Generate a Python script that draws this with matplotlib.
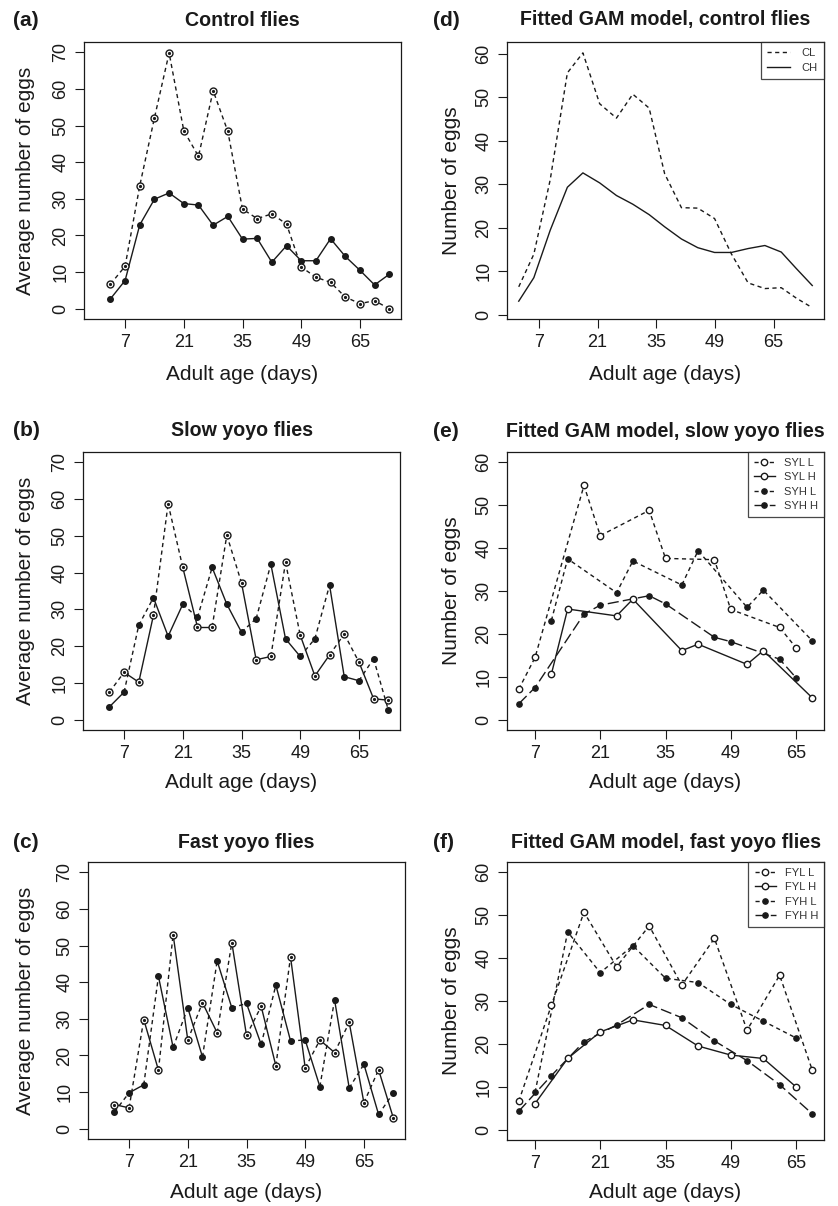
import matplotlib
matplotlib.use("Agg")
import matplotlib.pyplot as plt
from matplotlib.lines import Line2D

plt.rcParams['font.family'] = ['Liberation Sans', 'DejaVu Sans']

# ages at each egg count (days), twice a week
ages = [3.5, 7, 10.5, 14, 17.5, 21, 24.5, 28, 31.5, 35,
        38.5, 42, 45.5, 49, 52.5, 56, 59.5, 63, 66.5, 70]
tick_pos = [7, 21, 35, 49, 63]
tick_lab = ['7', '21', '35', '49', '65']

# (a) control flies
ctrl_low = [6.7, 11.6, 33.6, 52.1, 69.8, 48.6, 41.6, 59.5, 48.4, 27.2,
            24.6, 25.9, 23.1, 11.4, 8.6, 7.2, 3.2, 1.4, 2.2, 0.0]
ctrl_high = [2.7, 7.7, 22.9, 29.9, 31.6, 28.7, 28.3, 22.8, 25.2, 19.0,
             19.2, 12.7, 17.2, 13.1, 13.1, 19.1, 14.3, 10.5, 6.5, 9.4]

# (b) slow yoyo flies
slow_open = [7.5, 12.9, 10.2, 28.4, 58.7, 41.4, 25.2, 25.2, 50.2, 37.2,
             16.3, 17.2, 42.8, 23.0, 11.9, 17.6, 23.3, 15.7, 5.7, 5.3]
slow_filled = [3.5, 7.5, 25.7, 33.2, 22.7, 31.4, 27.8, 41.4, 31.4, 23.8,
               27.5, 42.3, 22.0, 17.2, 22.0, 36.6, 11.7, 10.6, 16.6, 2.7]
# temperature of the open-circle group between two counts
slow_temp = 'LHHLLHHLLHHLLHHLLHH'

# (c) fast yoyo flies
fast_open = [6.6, 5.7, 29.8, 16.0, 53.0, 24.2, 34.4, 26.2, 50.8, 25.5,
             33.4, 17.2, 46.9, 16.6, 24.2, 20.8, 29.0, 7.1, 16.1, 3.0]
fast_filled = [4.6, 9.8, 12.0, 41.6, 22.2, 33.0, 19.6, 45.8, 33.0, 34.2,
               23.0, 39.2, 24.0, 24.2, 11.5, 35.2, 11.1, 17.6, 3.9, 9.7]
fast_temp = 'HLHLHLHLHLHLHLHLHLH'

# (d) fitted GAM, control
gam_age = [2.2, 5.8, 9.7, 13.8, 17.5, 21.5, 25.5, 29.4, 33.3, 37.0,
           41.0, 44.9, 48.9, 52.9, 56.9, 60.9, 64.8, 68.4, 72.2]
gam_cl = [6.4, 13.9, 31.0, 55.6, 60.2, 48.5, 45.2, 50.7, 47.5, 32.4,
          24.6, 24.5, 22.1, 14.0, 7.3, 6.0, 6.2, 3.8, 1.6]
gam_ch = [3.1, 8.5, 19.4, 29.3, 32.6, 30.3, 27.4, 25.4, 23.0, 20.2,
          17.4, 15.4, 14.3, 14.3, 15.2, 15.9, 14.4, 10.6, 6.7]

# (e) fitted GAM, slow yoyo
age_a = [3.5, 7, 17.5, 21, 31.5, 35, 45.5, 49, 59.5, 63]
age_b = [10.5, 14, 24.5, 28, 38.5, 42, 52.5, 56, 66.5]
syl_l = [7.1, 14.5, 54.6, 42.9, 48.8, 37.6, 37.3, 25.7, 21.5, 16.8]
syl_h = [10.6, 25.8, 24.2, 28.1, 16.1, 17.6, 12.9, 16.1, 5.1]
syh_l = [23.1, 37.5, 29.6, 37.0, 31.4, 39.4, 26.2, 30.2, 18.4]
syh_h = [3.7, 7.5, 24.6, 26.7, 28.9, 27.0, 19.2, 18.2, 14.1, 9.8]

# (f) fitted GAM, fast yoyo
age_odd = [3.5, 10.5, 17.5, 24.5, 31.5, 38.5, 45.5, 52.5, 59.5, 66.5]
age_even = [7, 14, 21, 28, 35, 42, 49, 56, 63]
fyl_l = [6.6, 29.0, 50.7, 38.0, 47.5, 33.7, 44.6, 23.2, 36.0, 13.9]
fyl_h = [6.1, 16.6, 22.8, 25.6, 24.3, 19.5, 17.4, 16.6, 10.0]
fyh_l = [8.7, 46.1, 36.6, 42.9, 35.3, 34.3, 29.2, 25.3, 21.4]
fyh_h = [4.3, 12.6, 20.5, 24.4, 29.2, 26.1, 20.7, 16.1, 10.5, 3.7]

W, H = 838, 1206
fig = plt.figure(figsize=(W / 100, H / 100), dpi=100)
ink = '#1a1a1a'
DASH = (0, (3, 2.5))
LONG = (0, (8, 3))


def make_axes(l, t, r, b):
    ax = fig.add_axes([l / W, 1 - b / H, (r - l) / W, (b - t) / H])
    for s in ax.spines.values():
        s.set_linewidth(0.9)
        s.set_color(ink)
    ax.tick_params(direction='out', length=6.5, width=0.8, labelsize=13,
                   colors=ink, pad=4)
    ax.tick_params(axis='y', labelrotation=90)
    return ax


def finish(ax, ylab, ytop, lx, ly):
    ax.set_xticks(tick_pos, tick_lab)
    ax.set_yticks(range(0, ytop + 1, 10))
    for lab in ax.get_yticklabels():
        lab.set_va('center')
    ax.set_xlabel('Adult age (days)', fontsize=15, color=ink)
    ax.set_ylabel(ylab, fontsize=15, color=ink)
    ax.xaxis.set_label_coords(0.5, ly)
    ax.xaxis.label.set_va('center')
    ax.yaxis.set_label_coords(lx, 0.5)
    ax.yaxis.label.set_va('center')


def heading(tag, title, ax, ytop):
    pos = ax.get_position()
    cx = (pos.x0 + pos.x1) / 2
    fig.text(cx, 1 - ytop / H, title, ha='center', va='center',
             fontsize=14.1, fontweight='bold', color=ink)
    x0 = 13 if pos.x0 < 0.5 else 433
    fig.text(x0 / W, 1 - ytop / H, tag, ha='left', va='center',
             fontsize=15, fontweight='bold', color=ink)


def open_pts(ax, x, y):
    ax.plot(x, y, ls='none', marker='o', ms=5, mfc='white', mec=ink,
            mew=1.0, zorder=4)
    ax.plot(x, y, ls='none', marker='o', ms=1.3, mfc=ink, mec=ink,
            zorder=5)


def filled_pts(ax, x, y):
    ax.plot(x, y, ls='none', marker='o', ms=4, mfc=ink, mec=ink, zorder=4)


def yoyo(ax, y_open, y_filled, temp):
    other = {'L': 'H', 'H': 'L'}
    for i, t in enumerate(temp):
        ax.plot(ages[i:i + 2], y_open[i:i + 2], color=ink, lw=1.0,
                ls=DASH if t == 'L' else '-')
        ax.plot(ages[i:i + 2], y_filled[i:i + 2], color=ink, lw=1.0,
                ls=DASH if other[t] == 'L' else '-')
    filled_pts(ax, ages, y_filled)
    open_pts(ax, ages, y_open)


def style_legend(leg):
    leg.get_frame().set_edgecolor(ink)
    leg.get_frame().set_linewidth(0.9)
    for t in leg.get_texts():
        t.set_color('#333333')


# ---- (a)
ax = make_axes(84, 42, 401, 319)
ax.plot(ages, ctrl_low, color=ink, lw=1.0, ls=DASH)
ax.plot(ages, ctrl_high, color=ink, lw=1.0)
filled_pts(ax, ages, ctrl_high)
open_pts(ax, ages, ctrl_low)
ax.set_xlim(-2.8, 72.8)
ax.set_ylim(-2.8, 72.8)
finish(ax, 'Average number of eggs', 70, -0.186, -0.2)
heading('(a)', 'Control flies', ax, 20)

# ---- (b)
ax = make_axes(83, 452, 400, 730)
yoyo(ax, slow_open, slow_filled, slow_temp)
ax.set_xlim(-2.8, 72.8)
ax.set_ylim(-2.8, 72.8)
finish(ax, 'Average number of eggs', 70, -0.182, -0.19)
heading('(b)', 'Slow yoyo flies', ax, 431)

# ---- (c)
ax = make_axes(88, 862, 405, 1139)
yoyo(ax, fast_open, fast_filled, fast_temp)
ax.set_xlim(-2.8, 72.8)
ax.set_ylim(-2.8, 72.8)
finish(ax, 'Average number of eggs', 70, -0.198, -0.193)
heading('(c)', 'Fast yoyo flies', ax, 842)

# ---- (d)
ax = make_axes(507, 42, 824, 319)
ax.plot(gam_age, gam_cl, color=ink, lw=1.0, ls=DASH, label='CL')
ax.plot(gam_age, gam_ch, color=ink, lw=1.0, label='CH')
ax.margins(x=0.04)
ax.set_ylim(-1.0, 62.7)
finish(ax, 'Number of eggs', 60, -0.175, -0.2)
heading('(d)', 'Fitted GAM model, control flies', ax, 20)
leg = ax.legend(loc='upper right', fontsize=8, frameon=True, fancybox=False,
                borderaxespad=0, handlelength=2.0, handletextpad=1.1,
                labelspacing=0.45, borderpad=0.55)
style_legend(leg)


def gam_panel(ax, series, names):
    styles = [(DASH, 'white'), ('-', 'white'), (DASH, ink), (LONG, ink)]
    handles = []
    for (x, y), (ls, fc), name in zip(series, styles, names):
        ax.plot(x, y, color=ink, lw=1.0, ls=ls)
        ax.plot(x, y, ls='none', marker='o', ms=4.6 if fc == 'white' else 3.8,
                mfc=fc, mec=ink, mew=1.0, zorder=4)
        handles.append(Line2D([], [], color=ink, lw=1.0, ls=ls, marker='o',
                              ms=4.6 if fc == 'white' else 3.8, mfc=fc,
                              mec=ink, mew=1.0, label=name))
    ax.margins(x=0.04)
    ax.set_ylim(-2.4, 62.4)
    leg = ax.legend(handles=handles, loc='upper right', fontsize=8,
                    frameon=True, fancybox=False, borderaxespad=0,
                    handlelength=1.9, handletextpad=0.8, labelspacing=0.38,
                    borderpad=0.55)
    style_legend(leg)


# ---- (e)
ax = make_axes(507, 452, 824, 730)
gam_panel(ax, [(age_a, syl_l), (age_b, syl_h), (age_b, syh_l), (age_a, syh_h)],
          ['SYL L', 'SYL H', 'SYH L', 'SYH H'])
finish(ax, 'Number of eggs', 60, -0.175, -0.19)
heading('(e)', 'Fitted GAM model, slow yoyo flies', ax, 432)

# ---- (f)
ax = make_axes(507, 862, 824, 1140)
gam_panel(ax, [(age_odd, fyl_l), (age_even, fyl_h), (age_even, fyh_l),
               (age_odd, fyh_h)],
          ['FYL L', 'FYL H', 'FYH L', 'FYH H'])
finish(ax, 'Number of eggs', 60, -0.175, -0.19)
heading('(f)', 'Fitted GAM model, fast yoyo flies', ax, 842)

fig.savefig('out.png', dpi=100)
